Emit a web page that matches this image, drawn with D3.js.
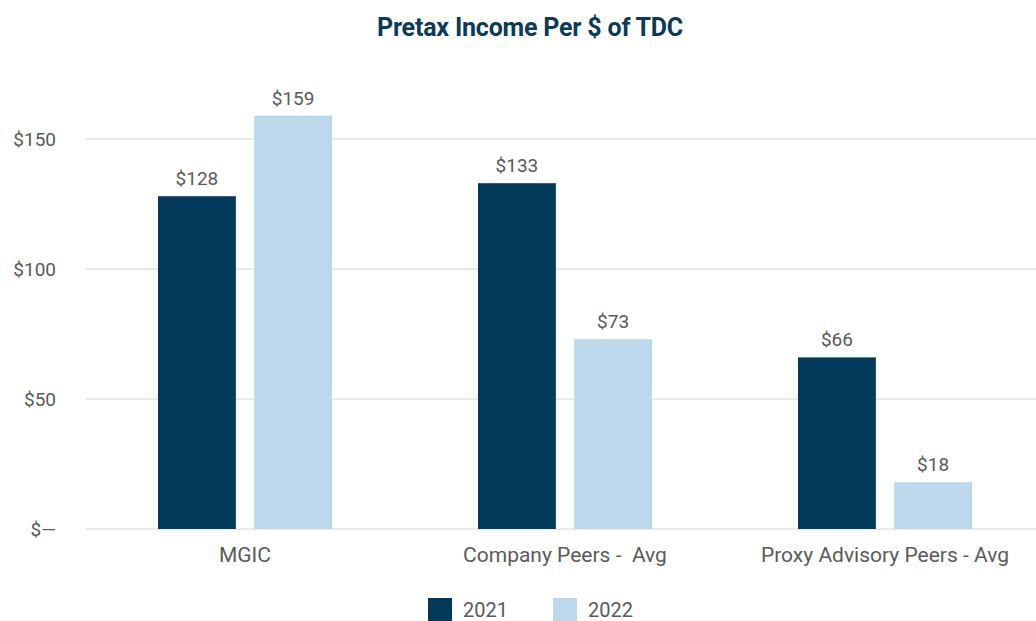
<!DOCTYPE html>
<html>
<head>
<meta charset="utf-8">
<script src="https://cdn.jsdelivr.net/npm/d3@7"></script>
<style>
  body { margin: 0; background: #fff; }
  svg { display: block; font-family: Roboto, "Noto Sans", sans-serif; }
</style>
</head>
<body>
<div id="container"></div>
<script>
const categories = ["MGIC", "Company Peers -  Avg", "Proxy Advisory Peers - Avg"];
const seriesNames = ["2021", "2022"];
const values2021 = [128, 133, 66];
const values2022 = [159, 73, 18];
const yTicks = [0, 50, 100, 150];

const width = 1036;
const height = 621;
const colors = ["#023a5b", "#bbd9ea"];

const svg = d3.select("#container")
  .append("svg")
  .attr("width", width)
  .attr("height", height);

// title
svg.append("text")
  .attr("x", 530)
  .attr("y", 36)
  .attr("text-anchor", "middle")
  .attr("font-size", 25)
  .attr("font-weight", 700)
  .attr("letter-spacing", -0.2)
  .attr("fill", "#0b3a5b")
  .text("Pretax Income Per $ of TDC");

// scales
const x = d3.scaleBand()
  .domain(categories)
  .range([85, 1045]);

const xInner = d3.scaleBand()
  .domain(seriesNames)
  .range([0, 174])
  .paddingInner(0.19);

const y = d3.scaleLinear()
  .domain([0, 150])
  .range([529, 139]);

// grid
svg.append("g")
  .selectAll("line")
  .data(yTicks)
  .join("line")
  .attr("x1", 85)
  .attr("x2", width)
  .attr("y1", d => y(d))
  .attr("y2", d => y(d))
  .attr("stroke", "#e4e4e4")
  .attr("stroke-width", 1.5);

// y labels
svg.append("g")
  .selectAll("text")
  .data(yTicks)
  .join("text")
  .attr("x", 56)
  .attr("y", d => y(d))
  .attr("dy", "0.35em")
  .attr("text-anchor", "end")
  .attr("font-size", 19)
  .attr("fill", "#5a5a5a")
  .text(d => d === 0 ? "$\u2014" : `$${d}`);

// bars
const rows = categories.map((c, i) => ({
  category: c,
  bars: [
    { series: "2021", value: values2021[i] },
    { series: "2022", value: values2022[i] }
  ]
}));

const groups = svg.append("g")
  .selectAll("g")
  .data(rows)
  .join("g")
  .attr("transform", d => `translate(${x(d.category) + (x.bandwidth() - 174) / 2},0)`);

groups.selectAll("rect")
  .data(d => d.bars)
  .join("rect")
  .attr("x", d => xInner(d.series))
  .attr("width", xInner.bandwidth())
  .attr("y", d => y(d.value))
  .attr("height", d => y(0) - y(d.value))
  .attr("fill", (d, i) => colors[i]);

groups.selectAll("text")
  .data(d => d.bars)
  .join("text")
  .attr("x", d => xInner(d.series) + xInner.bandwidth() / 2)
  .attr("y", d => y(d.value) - 11)
  .attr("text-anchor", "middle")
  .attr("font-size", 19)
  .attr("fill", "#5a5a5a")
  .text(d => `$${d.value}`);

// category labels
svg.append("g")
  .selectAll("text")
  .data(categories)
  .join("text")
  .attr("x", d => x(d) + x.bandwidth() / 2)
  .attr("y", 562)
  .attr("text-anchor", "middle")
  .attr("font-size", 21)
  .attr("fill", "#5a5a5a")
  .style("white-space", "pre")
  .text(d => d);

// legend, sitting on the bottom edge
const legend = svg.append("g")
  .selectAll("g")
  .data(seriesNames)
  .join("g")
  .attr("transform", (d, i) => `translate(${428 + i * 125},598)`);

legend.append("rect")
  .attr("width", 24)
  .attr("height", 23)
  .attr("fill", (d, i) => colors[i]);

legend.append("text")
  .attr("x", 35)
  .attr("y", 19)
  .attr("font-size", 20)
  .attr("fill", "#5a5a5a")
  .text(d => d);
</script>
</body>
</html>
